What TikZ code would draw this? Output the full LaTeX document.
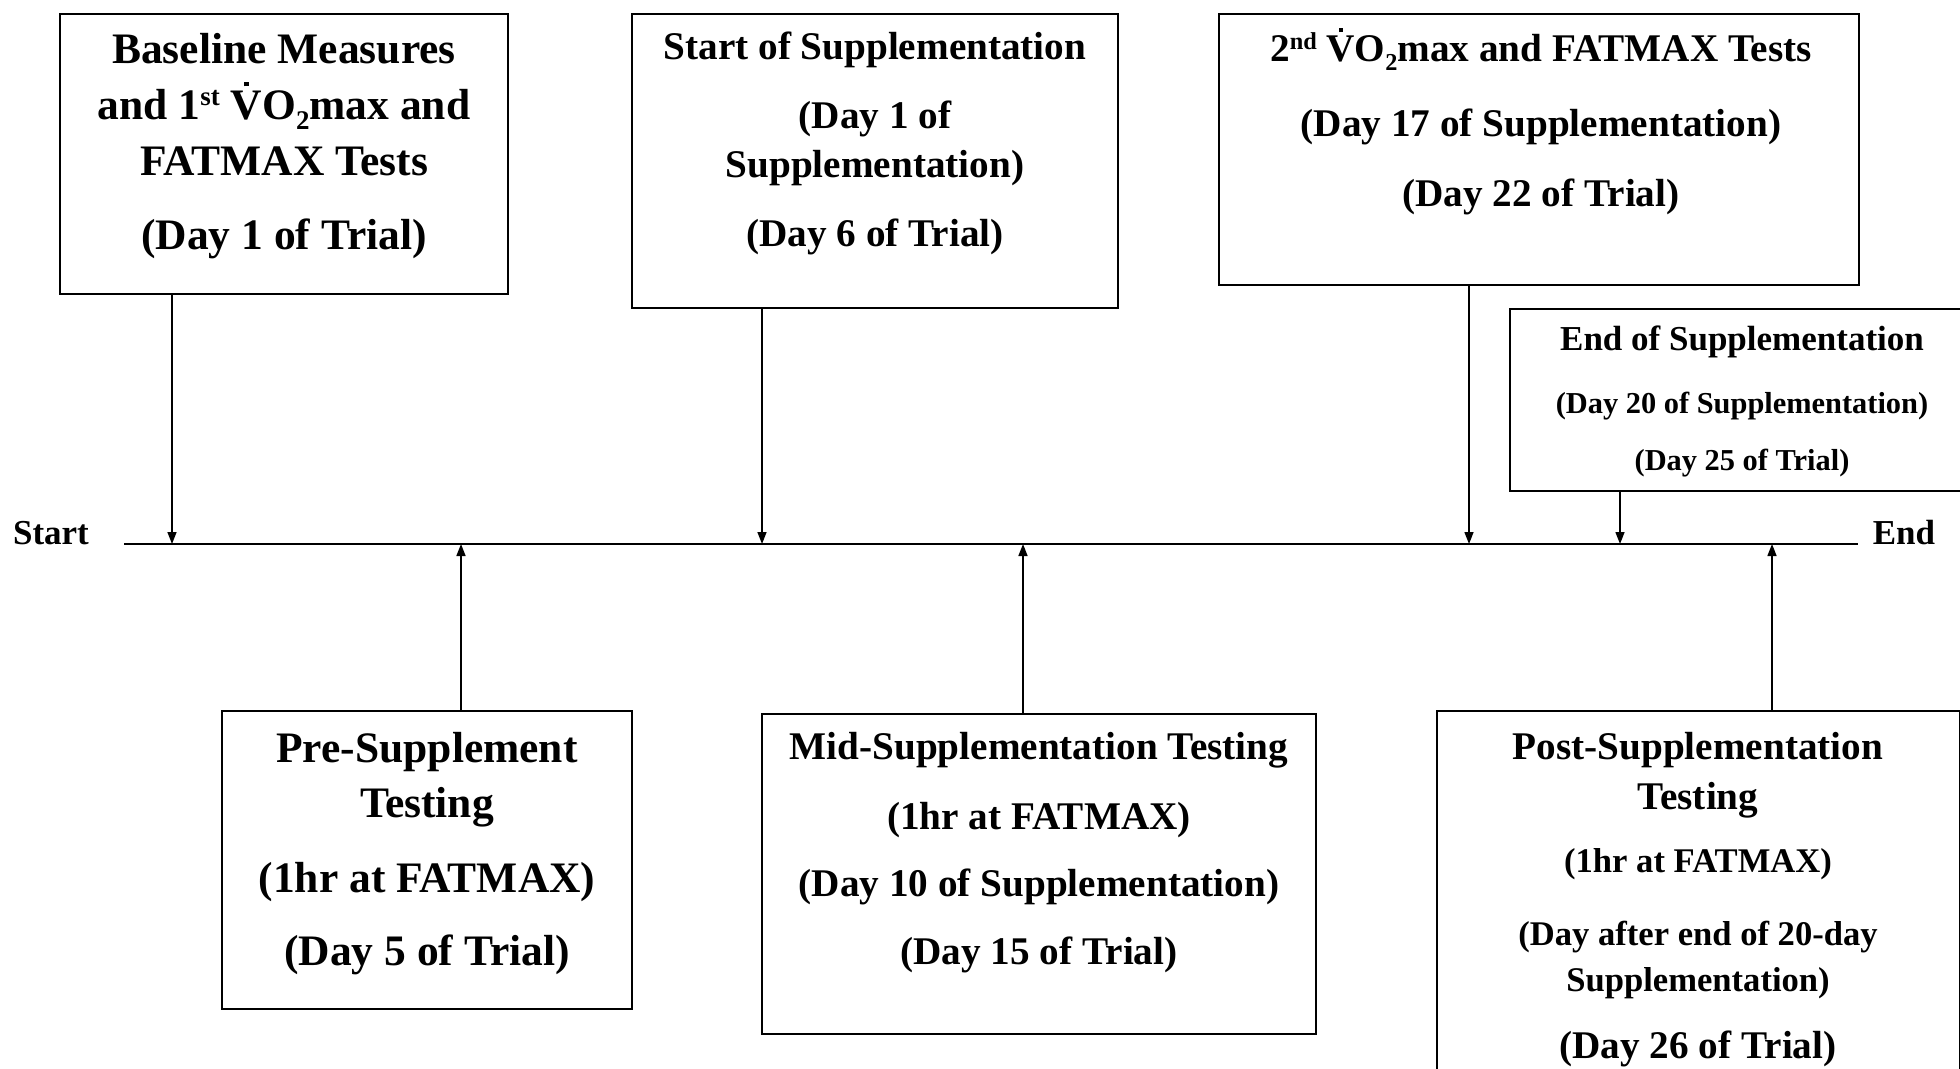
\documentclass[tikz,border=0pt]{standalone}
\usepackage{fontspec}
\setmainfont{Liberation Serif}
\usetikzlibrary{arrows.meta}
\newcommand{\Vd}{{\ooalign{V\cr\hidewidth\raisebox{0.76em}[0pt][0pt]{\rule{0.11em}{0.11em}}\hidewidth\cr}}}
\newcommand{\supx}[1]{\raisebox{0.33em}[0pt][0pt]{\scalebox{0.62}{#1}}}
\newcommand{\subx}[1]{\raisebox{-0.22em}[0pt][0pt]{\scalebox{0.62}{#1}}}
\begin{document}
\begin{tikzpicture}[x=0.5pt,y=-0.5pt,
  box/.style={draw, line width=0.75pt, rectangle, inner sep=0pt, outer sep=0pt},
  txt/.style={anchor=base, inner sep=0pt, outer sep=0pt, font=\fontsize{#1pt}{#1pt}\selectfont\bfseries},
  arr/.style={line width=0.75pt, -{Triangle[length=6pt,width=4.5pt]}},
  tl/.style={line width=0.75pt}]
\useasboundingbox (0,0) rectangle (1960,1069);
\clip (0,0) rectangle (1960,1069);
\fill[white] (0,0) rectangle (1960,1069);

% boxes
\node[box, minimum width=224pt, minimum height=140pt] (b1) at (284,154) {};
\node[box, minimum width=243pt, minimum height=147pt] (b2) at (875,161) {};
\node[box, minimum width=320pt, minimum height=135.5pt] (b3) at (1539,149.5) {};
\node[box, minimum width=232.5pt, minimum height=91pt] (b4) at (1742.5,400) {};
\node[box, minimum width=205pt, minimum height=149pt] (b5) at (427,860) {};
\node[box, minimum width=277pt, minimum height=160pt] (b6) at (1039,874) {};
\node[box, minimum width=261.5pt, minimum height=194.5pt] (b7) at (1698.5,905.5) {};

% box 1 text
\node[txt=21.75] (b1a) at (284,63.5) {Baseline Measures};
\node[txt=21.75] (b1b) at (284,119.5) {and 1\supx{st} \Vd O\subx{2}max and};
\node[txt=21.75] (b1c) at (284,175.5) {FATMAX Tests};
\node[txt=21.75] (b1d) at (284,249.5) {(Day 1 of Trial)};

% box 2 text
\node[txt=19.6] (b2a) at (875,60) {Start of Supplementation};
\node[txt=19.6] (b2b) at (875,129) {(Day 1 of};
\node[txt=19.6] (b2c) at (875,178) {Supplementation)};
\node[txt=19.6] (b2d) at (875,247) {(Day 6 of Trial)};

% box 3 text
\node[txt=19.6] (b3a) at (1541,62) {2\supx{nd} \Vd O\subx{2}max and FATMAX Tests};
\node[txt=19.6] (b3b) at (1541,137) {(Day 17 of Supplementation)};
\node[txt=19.6] (b3c) at (1541,207) {(Day 22 of Trial)};

% box 4 text
\node[txt=17.5] (b4a) at (1742,350.5) {End of Supplementation};
\node[txt=15.2] (b4b) at (1742,414) {(Day 20 of Supplementation)};
\node[txt=15.2] (b4c) at (1742,471) {(Day 25 of Trial)};

% box 5 text
\node[txt=21.75] (b5a) at (427,762) {Pre-Supplement};
\node[txt=21.75] (b5b) at (427,817) {Testing};
\node[txt=21.75] (b5c) at (427,892) {(1hr at FATMAX)};
\node[txt=21.75] (b5d) at (427,965) {(Day 5 of Trial)};

% box 6 text
\node[txt=19.6] (b6a) at (1039,759) {Mid-Supplementation Testing};
\node[txt=19.6] (b6b) at (1039,829) {(1hr at FATMAX)};
\node[txt=19.6] (b6c) at (1039,896) {(Day 10 of Supplementation)};
\node[txt=19.6] (b6d) at (1039,964) {(Day 15 of Trial)};

% box 7 text
\node[txt=19.6] (b7a) at (1698,759) {Post-Supplementation};
\node[txt=19.6] (b7b) at (1698,809) {Testing};
\node[txt=17.3] (b7c) at (1698,872.5) {(1hr at FATMAX)};
\node[txt=17.3] (b7d) at (1698,945.5) {(Day after end of 20-day};
\node[txt=17.3] (b7e) at (1698,991.5) {Supplementation)};
\node[txt=19.6] (b7f) at (1698,1058) {(Day 26 of Trial)};

% timeline
\node[txt=17.5] (ts) at (51,545) {Start};
\node[txt=17.5] (te) at (1904,545) {End};
\coordinate (L) at (124,544);
\coordinate (R) at (1858,544);
\draw[tl] (L) -- (R);

\coordinate (p1) at (172,544);
\coordinate (p2) at (762,544);
\coordinate (p3) at (1469,544);
\coordinate (p4) at (1620,544);
\coordinate (q1) at (461,544);
\coordinate (q2) at (1023,544);
\coordinate (q3) at (1772,544);

\draw[arr] (b1.south -| p1) -- (p1);
\draw[arr] (b2.south -| p2) -- (p2);
\draw[arr] (b3.south -| p3) -- (p3);
\draw[arr] (b4.south -| p4) -- (p4);
\draw[arr] (b5.north -| q1) -- (q1);
\draw[arr] (b6.north -| q2) -- (q2);
\draw[arr] (b7.north -| q3) -- (q3);
\end{tikzpicture}
\end{document}
